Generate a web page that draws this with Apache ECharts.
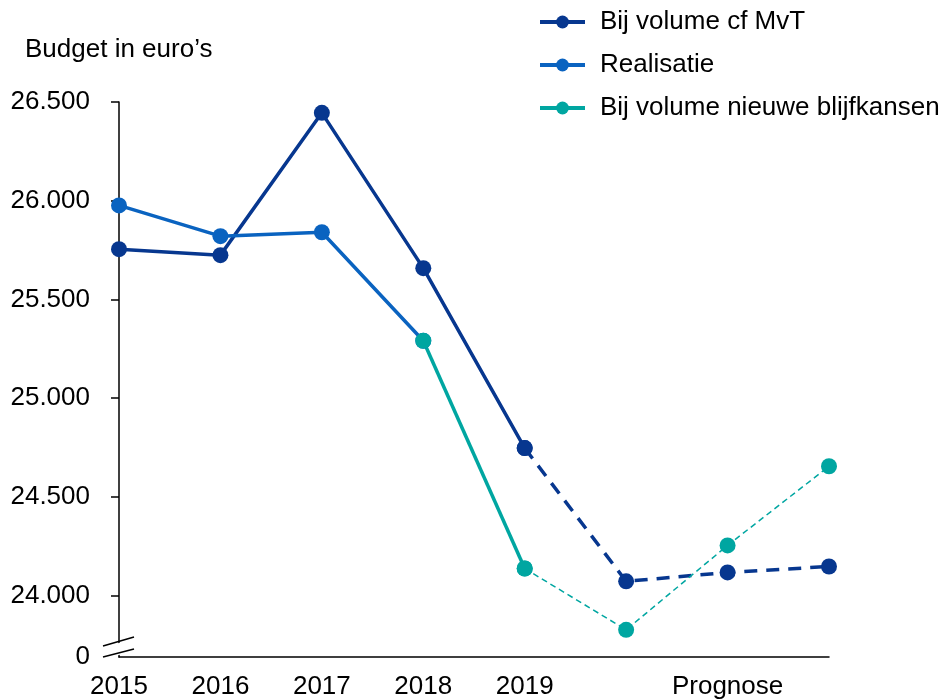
<!DOCTYPE html>
<html>
<head>
    <meta charset="utf-8">
    <script type="text/javascript" src="https://cdn.jsdelivr.net/npm/echarts@6/dist/echarts.min.js"></script>
    <style>
        html, body { margin: 0; padding: 0; background: #fff; }
    </style>
</head>
<body>
<div id="main" style="width:952px;height:700px"></div>
<script type="text/javascript">
    var years = ['2015', '2016', '2017', '2018', '2019', '2020', '2021', '2022'];
    var xLabels = ['2015', '2016', '2017', '2018', '2019', '', 'Prognose', ''];
    var yTicks = [23687.5, 24000, 24500, 25000, 25500, 26000, 26500];

    var mvt = [25754, 25724, 26445, 25658, 24746, '-', '-', '-'];
    var mvtPrognose = ['-', '-', '-', '-', 24746, 24071, 24116, 24146];
    var realisatie = [25976, 25820, 25840, 25290, '-', '-', '-', '-'];
    var blijf = ['-', '-', '-', 25290, 24136, '-', '-', '-'];
    var blijfPrognose = ['-', '-', '-', '-', 24136, 23825, 24253, 24654];

    var navy = '#07378f';
    var blue = '#0a63c0';
    var teal = '#00a6a1';
    var font = 'Liberation Sans, Arial, sans-serif';

    function fmt(v) {
        if (v < 23700) return '0';
        return Math.round(v).toString().replace(/\B(?=(\d{3})+(?!\d))/g, '.');
    }

    var myChart = echarts.init(document.getElementById('main'));
    var option = {
        animation: false,
        textStyle: {fontFamily: font},
        title: {
            text: 'Budget in euro\u2019s',
            left: 20, top: 32,
            textStyle: {fontFamily: font, fontSize: 26, fontWeight: 'normal', color: '#000'}
        },
        legend: {
            orient: 'vertical',
            left: 533, top: 4,
            itemWidth: 45, itemHeight: 16,
            itemGap: 17,
            data: ['Bij volume cf MvT', 'Realisatie', 'Bij volume nieuwe blijfkansen'],
            lineStyle: {width: 4},
            textStyle: {fontFamily: font, fontSize: 26, color: '#000', padding: [0, 0, 0, 10]}
        },
        grid: {left: 119, right: 123, top: 102, bottom: 40, containLabel: false},
        xAxis: {
            type: 'category',
            boundaryGap: false,
            data: years,
            axisLine: {onZero: false, lineStyle: {color: '#000', width: 1.5}},
            axisTick: {show: false},
            axisLabel: {
                interval: 0, margin: 17,
                fontFamily: font, fontSize: 26, color: '#000',
                formatter: function (v, i) { return xLabels[i]; }
            }
        },
        yAxis: {
            type: 'value',
            min: 23687.5, max: 26500,
            splitLine: {show: false},
            axisLine: {show: true, lineStyle: {color: '#000', width: 1.5}},
            axisTick: {show: true, length: 8, customValues: yTicks.slice(1), lineStyle: {color: '#000', width: 1.5}},
            axisLabel: {
                customValues: yTicks, margin: 29,
                fontFamily: font, fontSize: 26, color: '#000',
                formatter: fmt
            }
        },
        graphic: [
            {type: 'polygon', shape: {points: [[110, 645], [128, 641], [128, 653], [110, 657]]}, style: {fill: '#fff'}, z: 100},
            {type: 'line', shape: {x1: 103, y1: 646, x2: 134, y2: 637}, style: {stroke: '#000', lineWidth: 1.5}, z: 101},
            {type: 'line', shape: {x1: 103, y1: 657, x2: 134, y2: 649}, style: {stroke: '#000', lineWidth: 1.5}, z: 101}
        ],
        series: [
            {
                name: 'Bij volume cf MvT', type: 'line', data: mvt,
                symbol: 'circle', symbolSize: 16,
                itemStyle: {color: navy}, lineStyle: {color: navy, width: 3.5}
            },
            {
                name: 'mvt prognose', type: 'line', data: mvtPrognose,
                symbol: 'circle', symbolSize: 16,
                itemStyle: {color: navy}, lineStyle: {color: navy, width: 3.5, type: [13, 9]}
            },
            {
                name: 'Realisatie', type: 'line', data: realisatie,
                symbol: 'circle', symbolSize: 16,
                itemStyle: {color: blue}, lineStyle: {color: blue, width: 3.5}
            },
            {
                name: 'Bij volume nieuwe blijfkansen', type: 'line', data: blijf,
                symbol: 'circle', symbolSize: 16,
                itemStyle: {color: teal}, lineStyle: {color: teal, width: 3.5}
            },
            {
                name: 'blijf prognose', type: 'line', data: blijfPrognose,
                symbol: 'circle', symbolSize: 16,
                itemStyle: {color: teal}, lineStyle: {color: teal, width: 1.5, type: [6, 4]}
            }
        ]
    };
    myChart.setOption(option);
</script>
</body>
</html>
